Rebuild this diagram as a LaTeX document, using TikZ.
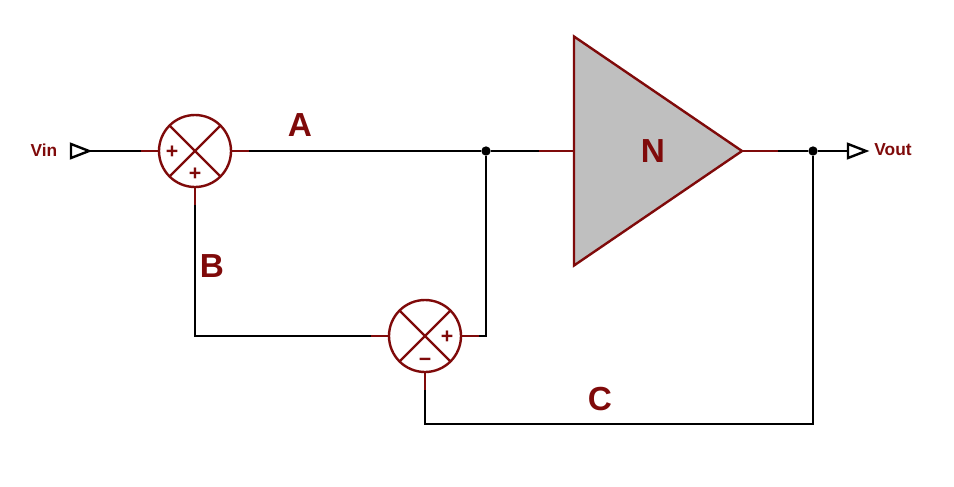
\documentclass[tikz,border=0pt]{standalone}
\usepackage{fontspec}
\setmainfont{Liberation Sans}
\usetikzlibrary{positioning, shapes.geometric}
\definecolor{wirered}{HTML}{7F0A0A}

\begin{document}
\begin{tikzpicture}[
      x=0.75pt, y=-0.75pt,
      font=\bfseries,
      wire/.style={line width=1.8pt, black},
      stub/.style={line width=1.8pt, wirered},
      summer/.style={circle, draw=wirered, line width=1.8pt, fill=white, minimum size=54pt, inner sep=0pt, outer sep=0pt},
      amp/.style={isosceles triangle, isosceles triangle stretches, draw=wirered, line width=1.8pt, fill=black!25, minimum width=171.75pt, minimum height=126pt, inner sep=0pt, outer sep=0pt},
      flag/.style={isosceles triangle, isosceles triangle stretches, draw=black, line width=1.8pt, fill=white, minimum width=10.5pt, minimum height=13.5pt, inner sep=0pt, outer sep=0pt},
      dot/.style={circle, fill=black, minimum size=7pt, inner sep=0pt},
      port/.style={text=wirered, font=\fontsize{13}{13}\selectfont\bfseries},
      sign/.style={text=wirered, inner sep=0pt, font=\fontsize{16}{16}\selectfont\bfseries},
      letter/.style={text=wirered, font=\fontsize{25}{25}\selectfont\bfseries}
    ]
      \useasboundingbox (0,0) rectangle (954,486);
      \node[summer] (sumA) at (195,151) {};
      \node[summer] (sumB) at (425,336) {};
      \node[amp, anchor=apex] (amp) at (742,151) {};
      \node[flag, anchor=apex] (flagin) at (89,151) {};
      \node[flag, anchor=apex] (flagout) at (866,151) {};
      \node[dot] (dotA) at (486,151) {};
      \node[dot] (dotC) at (813,151) {};
      \coordinate (cornerB) at (195,336);
      \coordinate (cornerR) at (486,336);
      \coordinate (cornerC) at (425,424);
      \coordinate (cornerD) at (813,424);

      % red stubs on the symbols
      \coordinate[left=13.5pt of sumA] (inA);
      \coordinate[right=13.5pt of sumA] (outA);
      \coordinate[below=13.5pt of sumA] (fbA);
      \coordinate[left=13.5pt of sumB] (outB);
      \coordinate[right=13.5pt of sumB] (inB);
      \coordinate[below=13.5pt of sumB] (fbB);
      \coordinate[left=26pt of amp.lower side] (inN);
      \coordinate[right=27pt of amp.apex] (outN);

      \draw[wire] (flagin.apex) -- (inA);
      \draw[wire] (outA) -- (dotA);
      \draw[wire] (dotA) -- (inN);
      \draw[wire] (fbA) -- (cornerB) -- (outB);
      \draw[wire] (dotA) -- (cornerR) -- (inB);
      \draw[wire] (fbB) -- (cornerC) -- (cornerD) -- (dotC);
      \draw[wire] (outN) -- (dotC);
      \draw[wire] (dotC) -- (flagout.lower side);

      \draw[stub] (inA) -- (sumA.west);
      \draw[stub] (sumA.east) -- (outA);
      \draw[stub] (sumA.south) -- (fbA);
      \draw[stub] (outB) -- (sumB.west);
      \draw[stub] (sumB.east) -- (inB);
      \draw[stub] (sumB.south) -- (fbB);
      \draw[stub] (inN) -- (amp.lower side);
      \draw[stub] (amp.apex) -- (outN);

      \foreach \s in {sumA, sumB} {
        \draw[stub] (\s.45) -- (\s.225);
        \draw[stub] (\s.135) -- (\s.315);
      }

      \node[sign] (plusA) at (172,152) {+};
      \node[sign] (plusB) at (195,174) {+};
      \node[sign] (plusC) at (447,337) {+};
      \node[sign] (minusC) at (425,362) {−};

      \node[port] (vin) at (44,150) {Vin};
      \node[port] (vout) at (893,150) {Vout};
      \node[letter] (labA) at (300,125) {A};
      \node[letter] (labB) at (212,266) {B};
      \node[letter] (labC) at (600,399) {C};
      \node[letter] (labN) at (653,151) {N};
    \end{tikzpicture}
\end{document}
